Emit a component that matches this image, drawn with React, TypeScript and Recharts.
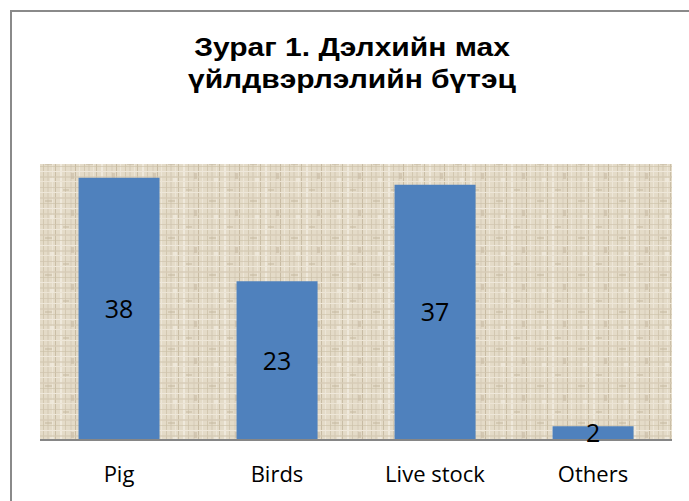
import React from 'react';
import { BarChart, Bar, XAxis, YAxis, CartesianGrid, LabelList } from 'recharts';

const CATEGORIES = ['Pig', 'Birds', 'Live stock', 'Others'];
const SHARES = [38, 23, 37, 2];
const TITLE_LINES = ['Зураг 1. Дэлхийн мах', 'үйлдвэрлэлийн бүтэц'];

const chartData = CATEGORIES.map((name, i) => ({ name, value: SHARES[i] }));

const FONT = '"Open Sans", Lato, sans-serif';

// linen-ish background for the plot area
function LinenPattern() {
  return (
    <svg width={0} height={0} style={{ position: 'absolute' }}>
      <defs>
        <pattern id="linen" width={41} height={37} patternUnits="userSpaceOnUse">
          <rect width={41} height={37} fill="#E4DBC8" />
          <rect x={2} y={0} width={1} height={37} fill="#D2C7B0" />
          <rect x={6} y={0} width={2} height={37} fill="#DBD1BD" />
          <rect x={11} y={0} width={1} height={37} fill="#ECE5D6" />
          <rect x={14} y={0} width={1} height={37} fill="#CABEA6" />
          <rect x={19} y={0} width={2} height={37} fill="#EFE9DC" />
          <rect x={24} y={0} width={1} height={37} fill="#D4C9B3" />
          <rect x={29} y={0} width={2} height={37} fill="#DDD3C0" />
          <rect x={34} y={0} width={1} height={37} fill="#C8BBA3" />
          <rect x={38} y={0} width={1} height={37} fill="#EDE6D8" />
          <rect x={0} y={2} width={41} height={1} fill="#D0C5AE" opacity={0.7} />
          <rect x={0} y={7} width={41} height={1} fill="#EEE7D9" />
          <rect x={0} y={12} width={41} height={2} fill="#D7CCB7" opacity={0.7} />
          <rect x={0} y={18} width={41} height={1} fill="#CBBFA7" opacity={0.6} />
          <rect x={0} y={23} width={41} height={1} fill="#EFE8DB" />
          <rect x={0} y={28} width={41} height={2} fill="#D3C8B2" opacity={0.6} />
          <rect x={0} y={33} width={41} height={1} fill="#ECE4D5" />
          <rect x={4} y={15} width={7} height={2} fill="#C4B79E" opacity={0.5} />
          <rect x={22} y={4} width={6} height={2} fill="#C6B9A0" opacity={0.5} />
          <rect x={30} y={25} width={3} height={6} fill="#C5B89F" opacity={0.5} />
          <rect x={9} y={30} width={4} height={4} fill="#F1EBDF" opacity={0.7} />
        </pattern>
      </defs>
    </svg>
  );
}

function CategoryTick({ x, y, payload }: any) {
  return (
    <text x={x} y={y + 34} textAnchor="middle" fontFamily={FONT} fontSize={22} fill="#000">
      {payload.value}
    </text>
  );
}

export default function App() {
  return (
    <div style={{ position: 'absolute', left: 0, top: 0, width: 689, height: 501, overflow: 'hidden', background: '#fff' }}>
      <LinenPattern />
      <div
        style={{
          position: 'absolute',
          left: 10,
          top: 10,
          width: 720,
          height: 560,
          border: '2px solid #8a8a8a',
        }}
      />
      <div
        style={{
          position: 'absolute',
          left: 0,
          top: 31,
          width: 704,
          textAlign: 'center',
          fontFamily: '"Liberation Sans", Arial, sans-serif',
          fontWeight: 'bold',
          fontSize: 25,
          lineHeight: '32px',
          color: '#000',
          transform: 'scaleX(1.2)',
          transformOrigin: '352px 0',
        }}
      >
        {TITLE_LINES.map(line => (
          <div key={line}>{line}</div>
        ))}
      </div>
      <div style={{ position: 'absolute', left: 0, top: 0 }}>
        <BarChart
          width={689}
          height={501}
          data={chartData}
          margin={{ top: 164, right: 17, left: 40, bottom: 31 }}
          barCategoryGap="24.4%"
        >
          <CartesianGrid horizontal={false} vertical={false} fill="url(#linen)" stroke="none" />
          <YAxis hide domain={[0, 40]} />
          <XAxis
            dataKey="name"
            axisLine={{ stroke: '#868686', strokeWidth: 2 }}
            tickLine={false}
            tick={<CategoryTick />}
            interval={0}
          />
          <Bar dataKey="value" fill="#4F81BD" isAnimationActive={false}>
            <LabelList dataKey="value" position="center" fill="#000" fontSize={25} fontFamily={FONT} />
          </Bar>
        </BarChart>
      </div>
    </div>
  );
}
